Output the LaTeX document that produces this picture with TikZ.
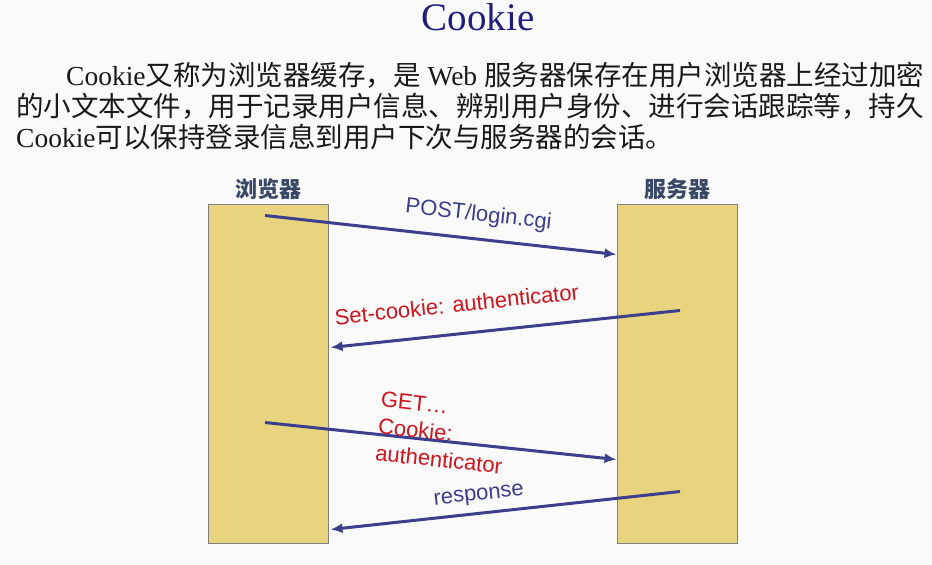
\documentclass[tikz,border=0pt]{standalone}
\usepackage{fontspec}
\setmainfont{Liberation Serif}
\newfontfamily\cjk{Noto Sans CJK SC}
\newfontfamily\arialfont{Liberation Sans}
\usetikzlibrary{positioning, arrows.meta, calc}
\definecolor{boxfill}{HTML}{E8D47F}
\definecolor{msgblue}{HTML}{3B3F8C}
\definecolor{msgred}{HTML}{D0141C}
\definecolor{titleblue}{HTML}{1E1E7E}
\definecolor{headgray}{HTML}{3A4868}
\definecolor{pagebg}{HTML}{FAFAFA}
\newcommand{\zh}[1]{{\cjk #1}}

\begin{document}
\begin{tikzpicture}[
  x=1pt, y=-1pt,
  body/.style={anchor=west, inner sep=0pt, font=\fontsize{27.5}{31}\selectfont, text=black!90},
  host/.style={rectangle, draw=black!50, line width=1pt, fill=boxfill,
               minimum width=120pt, minimum height=339pt, inner sep=0pt},
  head/.style={inner sep=0pt, font=\cjk\bfseries\fontsize{22}{24}\selectfont, text=headgray},
  msg/.style={-{Latex[length=12pt,width=10pt]}, line width=3pt, msgblue},
  lab/.style={sloped, font=\arialfont\fontsize{22}{27}\selectfont, text=msgblue, inner sep=5pt},
  req/.style={lab, text=msgred},
]
\useasboundingbox[fill=pagebg] (0,0) rectangle (932,565);

% title and text
\node[inner sep=0pt, font=\fontsize{39}{42}\selectfont, text=titleblue] (title) at (478,17) {Cookie};
\node[body] (line1) at (66,75) {Cookie\zh{又称为浏览器缓存，是} Web \zh{服务器保存在用户浏览器上经过加密}};
\node[body] (line2) at (16,106) {\zh{的小文本文件，用于记录用户信息、辨别用户身份、进行会话跟踪等，持久}};
\node[body] (line3) at (16,137) {Cookie\zh{可以保持登录信息到用户下次与服务器的会话。}};

% browser and server
\node[host] (browser) at (268,373.5) {};
\node[host] (server) at (677,373.5) {};
\node[head, above=4pt of browser] (bhead) {浏览器};
\node[head, above=4pt of server] (shead) {服务器};

% messages
\coordinate (post) at ($(browser.north)+(-3,12)$);
\coordinate (setc) at ($(server.north)+(3,107)$);
\coordinate (get) at ($(browser.north)+(-3,219)$);
\coordinate (resp) at ($(server.north)+(3,288)$);

\draw[msg] (post) -- node[lab, above=7pt, pos=0.6]{POST/login.cgi} ($(server.north west)+(0,51)$);
\draw[msg] (setc) -- node[req, above=15pt, pos=0.63]{Set-cookie: authenticator} ($(browser.north east)+(2,144)$);
\draw[msg] (get) -- node[req, above=-33pt, pos=0.5, align=left]{GET\ldots\\Cookie:\\authenticator} ($(server.north west)+(0,256)$);
\draw[msg] (resp) -- node[lab, above=2pt, pos=0.57]{response} ($(browser.north east)+(2,326)$);
\end{tikzpicture}
\end{document}
